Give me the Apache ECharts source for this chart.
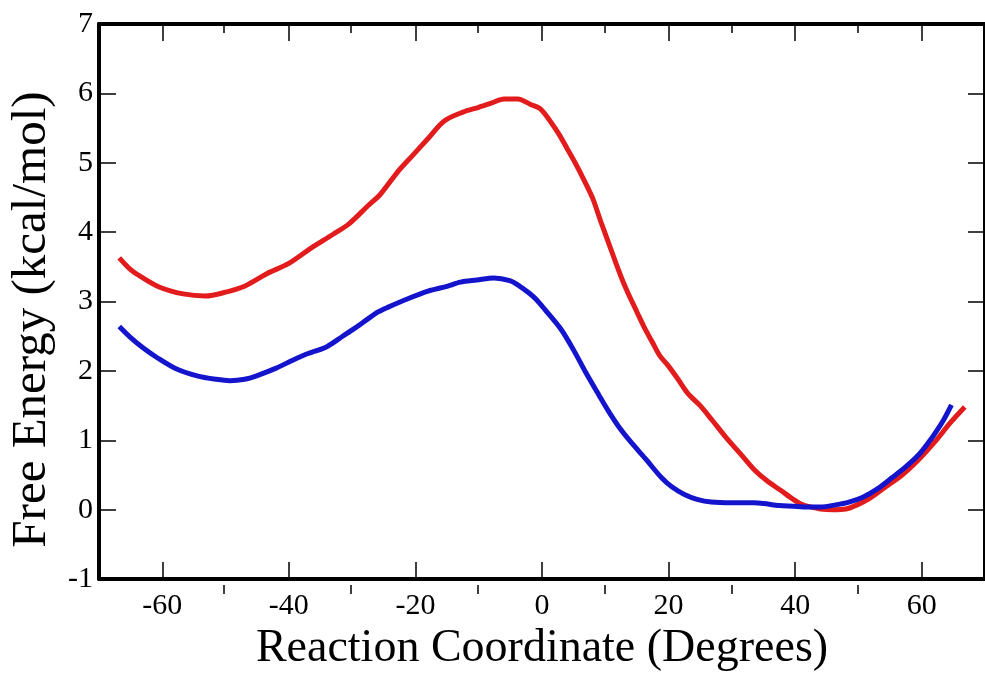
<!DOCTYPE html>
<html>
<head>
<meta charset="utf-8">
<script src="https://cdn.jsdelivr.net/npm/echarts@6/dist/echarts.min.js"></script>
<style>html,body{margin:0;padding:0;background:#fff;}#c{width:985px;height:677px;}</style>
</head>
<body>
<div id="c"></div>
<script>
// Data: [reaction coordinate (deg), free energy (kcal/mol)]
var redCurve = [[-66.8,3.63],[-65,3.46],[-63.4,3.36],[-60.5,3.21],[-56.7,3.11],[-53.2,3.08],[-49.8,3.14],[-47,3.22],[-43.5,3.40],[-40,3.55],[-36.5,3.77],[-33,3.97],[-30.5,4.12],[-27.5,4.38],[-25.5,4.55],[-22.8,4.87],[-20.5,5.10],[-18,5.35],[-15.5,5.60],[-12.5,5.73],[-10,5.80],[-8,5.86],[-6,5.92],[-3.8,5.92],[-1.8,5.84],[-0.3,5.78],[1.3,5.60],[2.7,5.41],[4,5.20],[5.3,4.99],[6.7,4.74],[8,4.49],[9.3,4.15],[10.5,3.85],[11.7,3.55],[12.7,3.31],[13.6,3.12],[15,2.85],[16.2,2.62],[17.4,2.42],[18.6,2.22],[19.9,2.08],[21.5,1.88],[23,1.68],[25,1.50],[26.8,1.30],[29,1.05],[31.4,0.80],[33.5,0.58],[35.5,0.42],[37.7,0.28],[39.7,0.15],[41,0.08],[42.4,0.04],[44,0.01],[46,0.0],[48,0.01],[49.8,0.07],[51.7,0.16],[54,0.31],[56.9,0.50],[59.5,0.72],[62.1,0.98],[64.5,1.25],[66.8,1.48]];
var blueCurve = [[-66.8,2.64],[-65,2.48],[-63,2.33],[-60.8,2.19],[-58,2.04],[-54.5,1.93],[-51.5,1.88],[-49.3,1.86],[-47,1.88],[-45.1,1.93],[-42,2.04],[-39.5,2.15],[-37.3,2.24],[-34,2.35],[-31.5,2.50],[-29.5,2.62],[-27.5,2.75],[-25.9,2.85],[-24.3,2.92],[-21.5,3.03],[-18,3.15],[-15,3.22],[-12.9,3.28],[-10.3,3.31],[-7.6,3.34],[-5.1,3.30],[-3.5,3.22],[-2,3.12],[-0.9,3.03],[0.5,2.88],[3,2.60],[5,2.30],[6.9,1.98],[9,1.65],[10.5,1.42],[12.1,1.20],[14,0.98],[16.3,0.74],[18.9,0.46],[20.5,0.33],[22.5,0.22],[24.5,0.15],[26.75,0.11],[30,0.10],[33.5,0.10],[35,0.09],[37.5,0.06],[39.7,0.05],[41.3,0.04],[44,0.04],[46.4,0.07],[48.5,0.11],[50.7,0.18],[53,0.30],[55.3,0.46],[57.5,0.62],[59.6,0.80],[61,0.96],[62.1,1.10],[63.5,1.30],[64.7,1.51]];
var xMajorTicks = [-60,-40,-20,0,20,40,60];
var xMinorTicks = [-50,-30,-10,10,30,50];
var xRange = [-70, 70];
var yRange = [-1, 7];
var xTitle = 'Reaction Coordinate (Degrees)';
var yTitle = 'Free Energy (kcal/mol)';

var FONT = '"Liberation Serif", "DejaVu Serif", serif';
var chart = echarts.init(document.getElementById('c'), null, {renderer: 'canvas'});

var gridRect = {left: 97, top: 24, right: -9, bottom: 83, containLabel: false};
var solidLine = {show: true, onZero: false, lineStyle: {color: '#000', width: 4}};
var hiddenLine = {show: false, onZero: false};
function majorTick(vals) {
  var t = {show: true, inside: true, length: 17, lineStyle: {color: '#000', width: 1.5}};
  if (vals) t.customValues = vals;
  return t;
}
function minorTick(vals) {
  return {show: true, inside: true, length: 9, lineStyle: {color: '#000', width: 1.5}, customValues: vals};
}
function xAxisDef(gi, pos, opts) {
  return Object.assign({
    type: 'value', gridIndex: gi, position: pos, min: xRange[0], max: xRange[1],
    splitLine: {show: false},
    axisLine: solidLine,
    axisTick: majorTick(xMajorTicks),
    axisLabel: {show: false}
  }, opts || {});
}
function yAxisDef(gi, pos, opts) {
  return Object.assign({
    type: 'value', gridIndex: gi, position: pos, min: yRange[0], max: yRange[1], interval: 1,
    splitLine: {show: false},
    axisLine: solidLine,
    axisTick: majorTick(null),
    axisLabel: {show: false}
  }, opts || {});
}

var option = {
  backgroundColor: '#fff',
  animation: false,
  grid: [Object.assign({}, gridRect), Object.assign({}, gridRect)],
  xAxis: [
    xAxisDef(0, 'bottom', {
      name: xTitle, nameLocation: 'middle', nameGap: 36,
      nameTextStyle: {fontFamily: FONT, fontSize: 46, color: '#000'},
      axisLabel: {show: true, customValues: xMajorTicks, margin: 12, fontFamily: FONT, fontSize: 30, color: '#000'}
    }),
    xAxisDef(0, 'top'),
    xAxisDef(1, 'bottom', {axisLine: hiddenLine, axisTick: minorTick(xMinorTicks)}),
    xAxisDef(1, 'top', {axisLine: hiddenLine, axisTick: minorTick(xMinorTicks)})
  ],
  yAxis: [
    yAxisDef(0, 'left', {
      name: yTitle, nameLocation: 'middle', nameGap: 42,
      nameTextStyle: {fontFamily: FONT, fontSize: 49, color: '#000', padding: [0, 36, 0, 0]},
      axisLabel: {show: true, margin: 6, fontFamily: FONT, fontSize: 30, color: '#000'}
    }),
    yAxisDef(0, 'right'),
    yAxisDef(1, 'left', {show: false})
  ],
  series: [
    {type: 'line', xAxisIndex: 0, yAxisIndex: 0, data: redCurve, smooth: 0.3, symbol: 'none',
     lineStyle: {color: '#e21c1c', width: 5}, z: 3},
    {type: 'line', xAxisIndex: 0, yAxisIndex: 0, data: blueCurve, smooth: 0.3, symbol: 'none',
     lineStyle: {color: '#1414cc', width: 5}, z: 4}
  ]
};
chart.setOption(option);
</script>
</body>
</html>
